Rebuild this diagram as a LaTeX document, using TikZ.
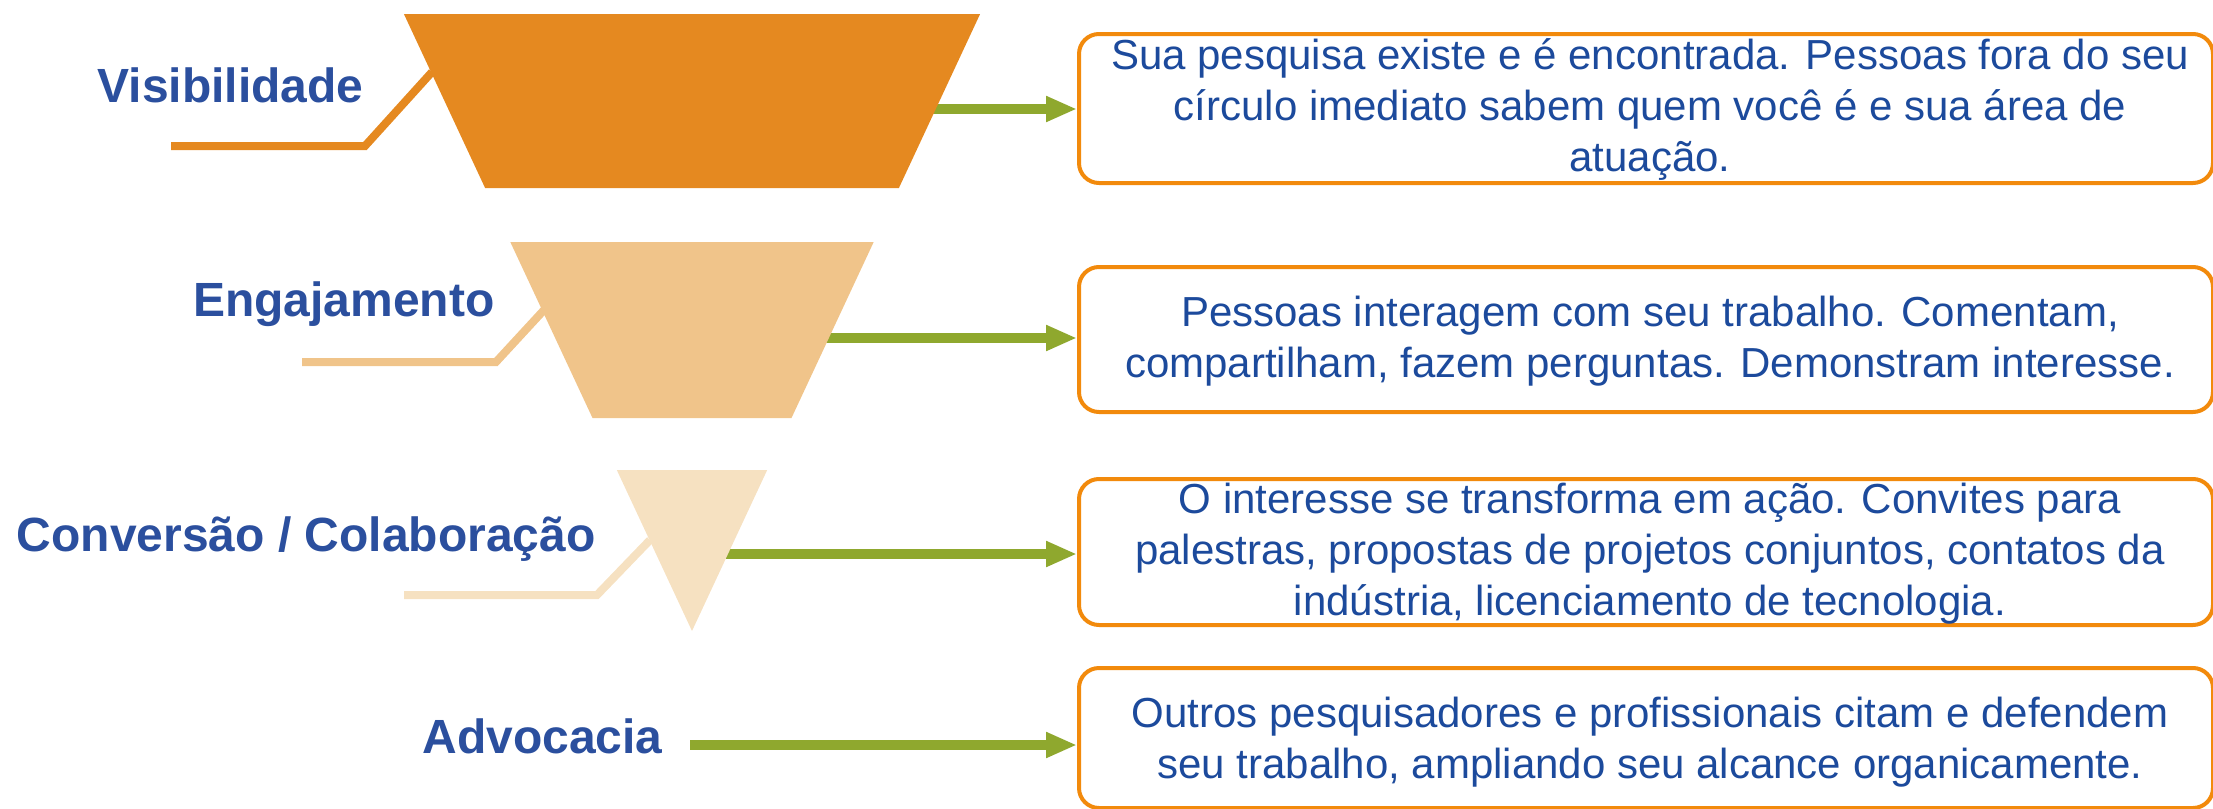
\documentclass[tikz,border=0pt]{standalone}
\usepackage{fontspec}
\setmainfont{Liberation Sans}
\usetikzlibrary{arrows.meta}
\definecolor{lvlA}{RGB}{229,137,32}
\definecolor{lvlB}{RGB}{240,196,138}
\definecolor{lvlC}{RGB}{246,225,193}
\definecolor{lblblue}{RGB}{43,79,158}
\definecolor{txtblue}{RGB}{28,74,156}
\definecolor{boxorange}{RGB}{242,138,12}
\definecolor{arrgreen}{RGB}{143,168,46}
\begin{document}
\begin{tikzpicture}[x=0.5pt,y=-0.5pt,
  lbl/.style={font=\fontsize{24}{28}\selectfont\bfseries, text=lblblue, inner sep=0pt, anchor=base east},
  descbox/.style={draw=boxorange, line width=2pt, rounded corners=10pt, fill=white,
                  minimum width=567pt, inner sep=0pt, anchor=north west},
  desctext/.style={font=\fontsize{21}{25.3}\selectfont, text=txtblue, align=center, inner sep=0pt, anchor=base},
  leader/.style={line width=4pt},
  greenarrow/.style={draw=arrgreen, line width=5pt, -{Triangle[length=15.5pt,width=12pt]}}
]
\useasboundingbox (0,0) rectangle (2213,809);

% description boxes
\node[descbox, minimum height=74.5pt] (b1) at (1077,32) {};
\node[descbox, minimum height=72.5pt] (b2) at (1077,265) {};
\node[descbox, minimum height=73pt] (b3) at (1077,477) {};
\node[descbox, minimum height=70pt] (b4) at (1077,666) {};

% texts (anchor base = baseline of the last line)
\node[desctext] (t1) at (1650,171) {Sua pesquisa existe e é encontrada. Pessoas fora do seu\\círculo imediato sabem quem você é e sua área de\\atuação.};
\node[desctext] (t2) at (1650,377) {Pessoas interagem com seu trabalho. Comentam,\\compartilham, fazem perguntas. Demonstram interesse.};
\node[desctext] (t3) at (1650,615) {O interesse se transforma em ação. Convites para\\palestras, propostas de projetos conjuntos, contatos da\\indústria, licenciamento de tecnologia.};
\node[desctext] (t4) at (1650,778) {Outros pesquisadores e profissionais citam e defendem\\seu trabalho, ampliando seu alcance organicamente.};

% arrow starts (hidden under the funnel)
\coordinate (s1) at (692,109);
\coordinate (s2) at (692,338);
\coordinate (s3) at (692,554);
\draw[greenarrow] (s1) -- (s1 -| b1.west);
\draw[greenarrow] (s2) -- (s2 -| b2.west);
\draw[greenarrow] (s3) -- (s3 -| b3.west);

% leader lines
\draw[leader, draw=lvlA] (171,146) -- (365,146) -- (432,72);
\draw[leader, draw=lvlB] (302,362) -- (496,362) -- (544,310);
\draw[leader, draw=lvlC] (404,595) -- (597,595) -- (650,540);

% funnel
\fill[lvlA] (403.9,14) -- (980.1,14) -- (898.9,188) -- (485.1,188) -- cycle;
\fill[lvlB] (510.3,242) -- (873.7,242) -- (791.5,418) -- (592.5,418) -- cycle;
\fill[lvlC] (616.8,470) -- (767.2,470) -- (692,631) -- cycle;

% labels
\node[lbl] (l1) at (364,102) {Visibilidade};
\node[lbl] (l2) at (495,316) {Engajamento};
\node[lbl] (l3) at (596,551) {Conversão / Colaboração};
\node[lbl] (l4) at (663,753) {Advocacia};
\coordinate (s4) at (690,745);
\draw[greenarrow] (s4) -- (s4 -| b4.west);
\end{tikzpicture}
\end{document}
